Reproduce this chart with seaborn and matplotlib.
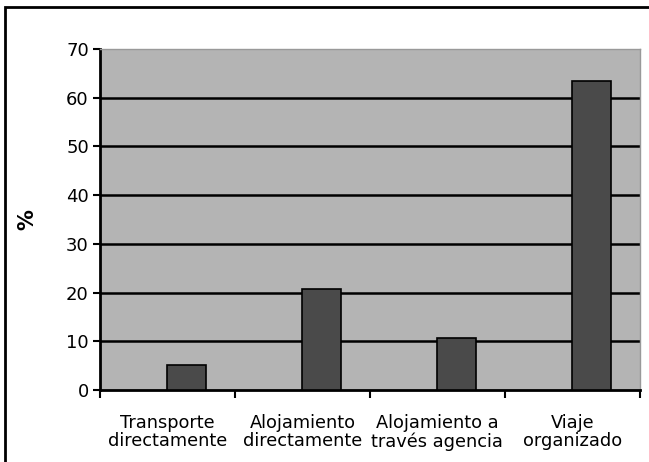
import matplotlib
matplotlib.use("Agg")
import matplotlib.pyplot as plt
import matplotlib.patches as mpatches
import seaborn as sns
import pandas as pd
import numpy as np

categories = ["Transporte\ndirectamente", "Alojamiento\ndirectamente",
              "Alojamiento a\ntravés agencia", "Viaje\norganizado"]
values = [5.1, 20.8, 10.7, 63.4]
y_ticks = [0, 10, 20, 30, 40, 50, 60, 70]

sns.set_style("white")
plt.rcParams["font.family"] = ["DejaVu Sans"]
plt.rcParams["text.color"] = "black"
plt.rcParams["axes.labelcolor"] = "black"
plt.rcParams["xtick.color"] = "black"
plt.rcParams["ytick.color"] = "black"

# Two series slots per category; only the second carries data
df = pd.DataFrame({
    "categoria": categories * 2,
    "serie": ["vacía"] * len(categories) + ["%"] * len(categories),
    "valor": [np.nan] * len(categories) + values,
})

fig = plt.figure(figsize=(6.49, 4.62), dpi=100)
ax = fig.add_axes([0.154, 0.156, 0.832, 0.738])
ax.set_facecolor("#b4b4b4")

sns.barplot(data=df, x="categoria", y="valor", hue="serie",
            hue_order=["vacía", "%"], order=categories,
            palette={"vacía": "#4a4a4a", "%": "#4a4a4a"},
            width=0.57, edgecolor="black", linewidth=1.2,
            legend=False, ax=ax, zorder=3)

ax.set_ylim(0, 70)
ax.set_xlim(-0.5, len(categories) - 0.5)
ax.set_yticks(y_ticks)
ax.set_yticklabels([str(t) for t in y_ticks], fontsize=13)
ax.set_xticklabels(categories, fontsize=12.8, linespacing=1.05)
ax.set_xlabel("")
ax.set_ylabel("%", fontsize=15, fontweight="bold")
ax.yaxis.set_label_coords(-0.115, 0.5)

# Horizontal gridlines
for t in y_ticks[1:-1]:
    ax.axhline(t, color="black", linewidth=1.8, zorder=2)

# Category boundary ticks on the x axis
ax.set_xticks(np.arange(-0.5, len(categories), 1.0), minor=True)
ax.tick_params(axis="x", which="major", bottom=True, length=0, pad=17)
ax.tick_params(axis="x", which="minor", bottom=True, length=6, width=1.5,
               color="black", direction="out")
ax.tick_params(axis="y", which="major", left=True, length=5, width=1.5,
               color="black", direction="out", pad=3)

for side in ["top", "right"]:
    ax.spines[side].set_color("#999999")
    ax.spines[side].set_linewidth(1.0)
for side in ["left", "bottom"]:
    ax.spines[side].set_color("black")
    ax.spines[side].set_linewidth(2.0)

# Outer chart frame
frame = mpatches.Rectangle((5 / 649, -0.1), 1.5, 0.1 + (1 - 7 / 462),
                           transform=fig.transFigure, fill=False,
                           edgecolor="black", linewidth=2.0)
fig.patches.append(frame)

fig.savefig("out.png", dpi=100)
